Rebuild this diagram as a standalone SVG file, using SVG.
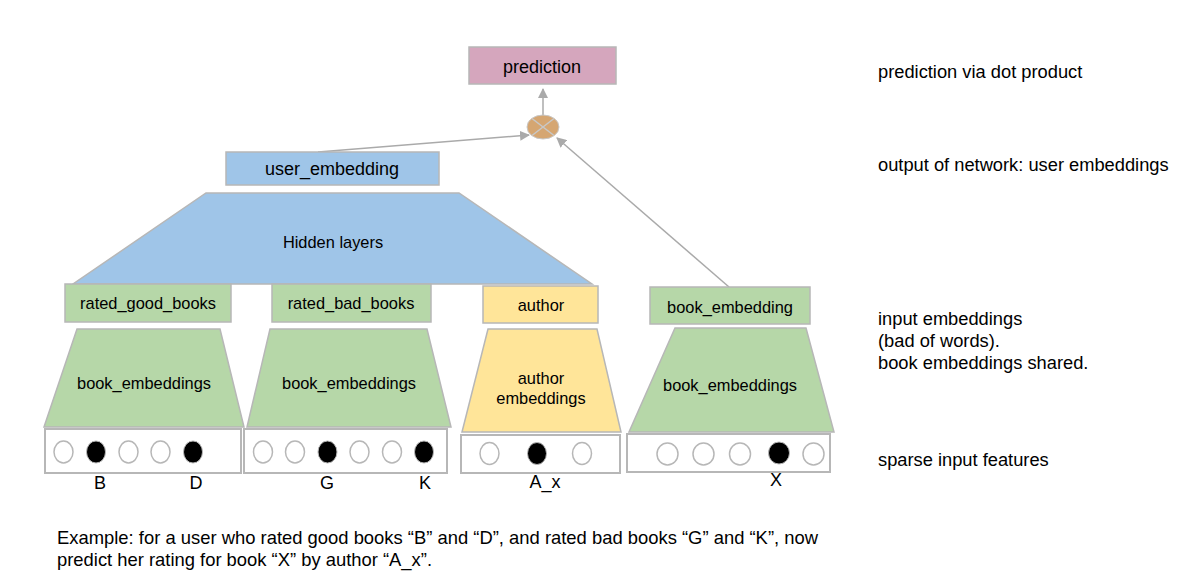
<svg xmlns="http://www.w3.org/2000/svg" width="1192" height="584" viewBox="0 0 1192 584">
<defs>
<style>
text{font-family:"Liberation Sans",Arial,sans-serif;fill:#000}
.lbl{font-size:16.4px;text-anchor:middle}
.big{font-size:18px;text-anchor:middle}
.key{font-size:18px;text-anchor:middle}
.note{font-size:18.3px}
.sh{stroke:#b7b7b7;stroke-width:1.5}
.green{fill:#b6d7a8}
.blue{fill:#9fc5e8}
.yellow{fill:#ffe599}
.pink{fill:#d5a6bd}
.inbox{fill:#fff;stroke:#b7b7b7;stroke-width:2}
.off{fill:#fff;stroke:#b7b7b7;stroke-width:1.5}
.on{fill:#000;stroke:#b7b7b7;stroke-width:1}
.conn{stroke:#aaaaaa;stroke-width:1.5;fill:none}
</style>
<marker id="arr" markerWidth="10" markerHeight="10" refX="9" refY="5" orient="auto" markerUnits="userSpaceOnUse" viewBox="0 0 10 10">
<path d="M0,0 L10,5 L0,10 z" fill="#aaaaaa"/>
</marker>
</defs>
<rect width="1192" height="584" fill="#fff"/>

<g id="connectors">
<line class="conn" x1="543" y1="115" x2="543" y2="89" marker-end="url(#arr)"/>
<line class="conn" x1="318" y1="152" x2="529" y2="135" marker-end="url(#arr)"/>
<line class="conn" x1="729" y1="287" x2="557" y2="138" marker-end="url(#arr)"/>
</g>

<g id="prediction">
<rect class="pink sh" x="469" y="47" width="147" height="37"/>
<text class="big" x="542" y="73">prediction</text>
</g>

<g id="dot_product">
<ellipse cx="543" cy="127" rx="16" ry="12" fill="#d5a672" stroke="#c8c8c8" stroke-width="1"/>
<line x1="532" y1="118.5" x2="554" y2="135.5" stroke="#c8c8c8" stroke-width="1.5"/>
<line x1="554" y1="118.5" x2="532" y2="135.5" stroke="#c8c8c8" stroke-width="1.5"/>
</g>

<g id="user_embedding">
<rect class="blue sh" x="226" y="152" width="213" height="33"/>
<text class="big" x="332" y="175">user_embedding</text>
</g>

<g id="hidden_layers">
<polygon class="blue sh" points="206,193 459,193 592,284 73,284"/>
<text class="lbl" x="333" y="248">Hidden layers</text>
</g>

<g id="rated_good_books">
<rect class="green sh" x="65" y="284" width="166" height="38"/>
<text class="lbl" x="148" y="309">rated_good_books</text>
</g>
<g id="book_embeddings_1">
<polygon class="green sh" points="77,329 220,329 244,427 44,427"/>
<text class="lbl" x="144" y="389">book_embeddings</text>
</g>
<g id="input_good">
<rect class="inbox" x="45" y="429" width="196" height="44"/>
<ellipse class="off" cx="63.5" cy="452" rx="9.5" ry="11"/>
<ellipse class="on" cx="96" cy="452" rx="9.5" ry="11"/>
<ellipse class="off" cx="128.5" cy="452" rx="9.5" ry="11"/>
<ellipse class="off" cx="160.5" cy="452" rx="9.5" ry="11"/>
<ellipse class="on" cx="193" cy="452" rx="9.5" ry="11"/>
<text class="key" x="100" y="489">B</text>
<text class="key" x="196" y="489">D</text>
</g>

<g id="rated_bad_books">
<rect class="green sh" x="272" y="284" width="159" height="38"/>
<text class="lbl" x="351" y="309">rated_bad_books</text>
</g>
<g id="book_embeddings_2">
<polygon class="green sh" points="270,329 427,329 451,427 247,427"/>
<text class="lbl" x="349" y="389">book_embeddings</text>
</g>
<g id="input_bad">
<rect class="inbox" x="244" y="429" width="203" height="44"/>
<ellipse class="off" cx="263" cy="452" rx="9.5" ry="11"/>
<ellipse class="off" cx="295" cy="452" rx="9.5" ry="11"/>
<ellipse class="on" cx="327.5" cy="452" rx="9.5" ry="11"/>
<ellipse class="off" cx="359.5" cy="452" rx="9.5" ry="11"/>
<ellipse class="off" cx="392" cy="452" rx="9.5" ry="11"/>
<ellipse class="on" cx="424" cy="452" rx="9.5" ry="11"/>
<text class="key" x="327" y="489">G</text>
<text class="key" x="425" y="489">K</text>
</g>

<g id="author">
<rect class="yellow sh" x="483" y="286" width="115" height="37"/>
<text class="lbl" x="541" y="311">author</text>
</g>
<g id="author_embeddings">
<polygon class="yellow sh" points="488,329 597,329 621,432 462,432"/>
<text class="lbl" x="541" y="384">author</text>
<text class="lbl" x="541" y="404">embeddings</text>
</g>
<g id="input_author">
<rect class="inbox" x="461" y="435" width="159" height="38"/>
<ellipse class="off" cx="489.5" cy="453.5" rx="9.5" ry="11"/>
<ellipse class="on" cx="537" cy="453.5" rx="9.5" ry="11"/>
<ellipse class="off" cx="582" cy="453.5" rx="9.5" ry="11"/>
<text class="key" x="545" y="488">A_x</text>
</g>

<g id="book_embedding">
<rect class="green sh" x="650" y="287" width="160" height="37"/>
<text class="lbl" x="730" y="313">book_embedding</text>
</g>
<g id="book_embeddings_3">
<polygon class="green sh" points="675,328 806,328 834,432 629,432"/>
<text class="lbl" x="730" y="391">book_embeddings</text>
</g>
<g id="input_book">
<rect class="inbox" x="627" y="434" width="203" height="38"/>
<ellipse class="off" cx="667.5" cy="454" rx="10.5" ry="11"/>
<ellipse class="off" cx="703.5" cy="454" rx="10.5" ry="11"/>
<ellipse class="off" cx="740" cy="454" rx="10.5" ry="11"/>
<ellipse class="on" cx="779" cy="453" rx="10.5" ry="11"/>
<ellipse class="off" cx="813.5" cy="454" rx="10.5" ry="11"/>
<text class="key" x="776" y="486">X</text>
</g>

<g id="notes">
<text class="note" x="878" y="78">prediction via dot product</text>
<text class="note" x="878" y="171">output of network: user embeddings</text>
<text class="note" x="878" y="325">input embeddings</text>
<text class="note" x="878" y="347">(bad of words).</text>
<text class="note" x="878" y="369">book embeddings shared.</text>
<text class="note" x="878" y="466">sparse input features</text>
<text style="font-size:19px" x="57" y="544" textLength="761" lengthAdjust="spacingAndGlyphs">Example: for a user who rated good books “B” and “D”, and rated bad books “G” and “K”, now</text>
<text style="font-size:19px" x="57" y="566" textLength="375" lengthAdjust="spacingAndGlyphs">predict her rating for book “X” by author “A_x”.</text>
</g>
</svg>
